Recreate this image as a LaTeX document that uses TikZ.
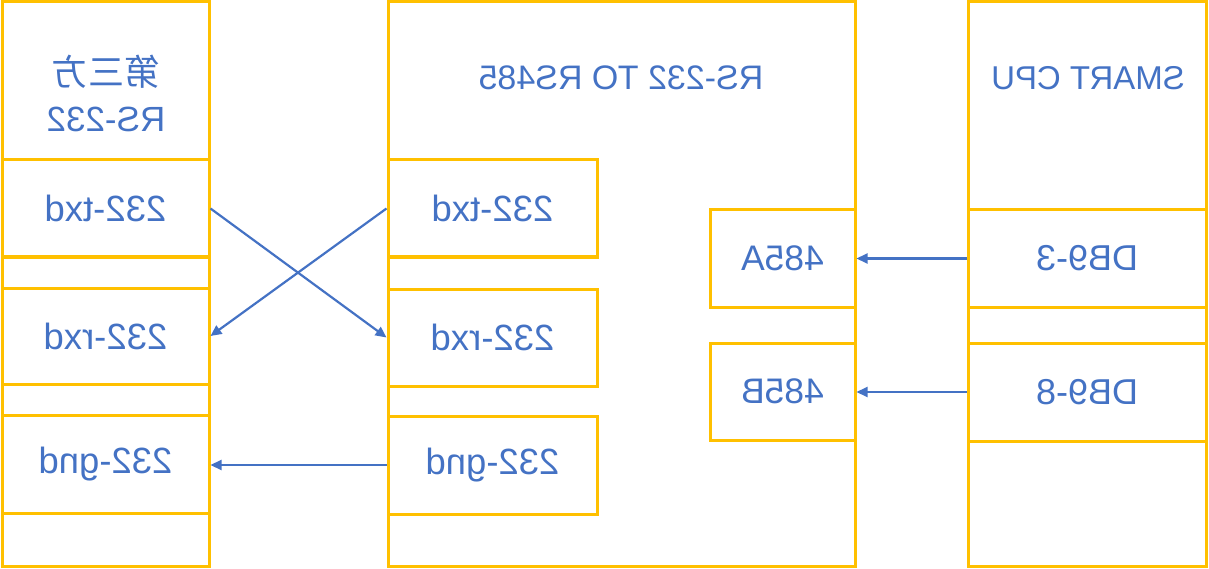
\documentclass[tikz,border=0pt]{standalone}
\usepackage{fontspec}
\setmainfont{Liberation Sans}
\newfontfamily\cjk{Noto Sans CJK SC}
\usetikzlibrary{arrows.meta}
\definecolor{frame}{HTML}{FFC000}
\definecolor{ink}{HTML}{4472C4}
\begin{document}
\begin{tikzpicture}[x=1pt,y=-1pt,
  box/.style={draw=frame, line width=3pt, rectangle, inner sep=0pt, text=ink,
    font=\fontsize{36.5}{42}\selectfont},
  lbl/.style={text=ink, inner sep=0pt, font=\fontsize{35}{46}\selectfont},
  wire/.style={draw=ink, line width=2.2pt, -{Triangle[length=11pt,width=10pt]}}]
\useasboundingbox (0,0) rectangle (1209,569);
% left column
\node[box, minimum width=207pt, minimum height=158pt] (L0) at (105.5,81) {};
\node[box, minimum width=207pt, minimum height=97pt]  (L1) at (105.5,208.5) {\reflectbox{232-txd}};
\node[box, minimum width=207pt, minimum height=31pt]  (Lg1) at (105.5,272.5) {};
\node[box, minimum width=207pt, minimum height=96pt]  (L2) at (105.5,336) {\reflectbox{232-rxd}};
\node[box, minimum width=207pt, minimum height=31pt]  (Lg2) at (105.5,399.5) {};
\node[box, minimum width=207pt, minimum height=98pt]  (L3) at (105.5,464) {\reflectbox{232-gnd}};
\node[box, minimum width=207pt, minimum height=53pt]  (L4) at (105.5,539.5) {};
\node[lbl] (Ht) at (106,99) {\reflectbox{\begin{tabular}{@{}c@{}}{\cjk\fontsize{36}{46}\selectfont 第三方}\\RS-232\end{tabular}}};
% middle
\node[box, minimum width=467pt, minimum height=564pt] (M) at (621.5,284) {};
\node[lbl, font=\fontsize{34}{40}\selectfont] (Mt) at (621,78) {\reflectbox{RS-232 TO RS485}};
\node[box, minimum width=209pt, minimum height=97pt] (M1) at (492.5,208.5) {\reflectbox{232-txd}};
\node[box, minimum width=209pt, minimum height=97pt] (M2) at (492.5,337.5) {\reflectbox{232-rxd}};
\node[box, minimum width=209pt, minimum height=98pt] (M3) at (492.5,465) {\reflectbox{232-gnd}};
\node[box, minimum width=145pt, minimum height=97pt, font=\fontsize{35.5}{42}\selectfont] (MA) at (782.5,258.5) {\reflectbox{485A}};
\node[box, minimum width=145pt, minimum height=97pt, font=\fontsize{35.5}{42}\selectfont] (MB) at (782.5,391.5) {\reflectbox{485B}};
% right column
\node[box, minimum width=238pt, minimum height=208pt] (R0) at (1087,106) {};
\node[lbl, font=\fontsize{33}{40}\selectfont] (Rt) at (1088,78) {\reflectbox{SMART CPU}};
\node[box, minimum width=238pt, minimum height=97pt, font=\fontsize{36}{42}\selectfont]  (RA) at (1087,258.5) {\reflectbox{DB9-3}};
\node[box, minimum width=238pt, minimum height=36pt]  (Rg) at (1087,325) {};
\node[box, minimum width=238pt, minimum height=98pt, font=\fontsize{36}{42}\selectfont]  (RB) at (1087,392) {\reflectbox{DB9-8}};
\node[box, minimum width=238pt, minimum height=125pt] (R4) at (1087,503.5) {};
% connectors
\draw[wire] (M1.west) -- (L2.east);
\draw[wire] (L1.east) -- (M2.west);
\draw[wire] (M3.west) -- (M3.west -| L3.east);
\draw[wire] (RA.west) -- (MA.east);
\draw[wire] (RB.west) -- (RB.west -| MB.east);
\end{tikzpicture}
\end{document}
